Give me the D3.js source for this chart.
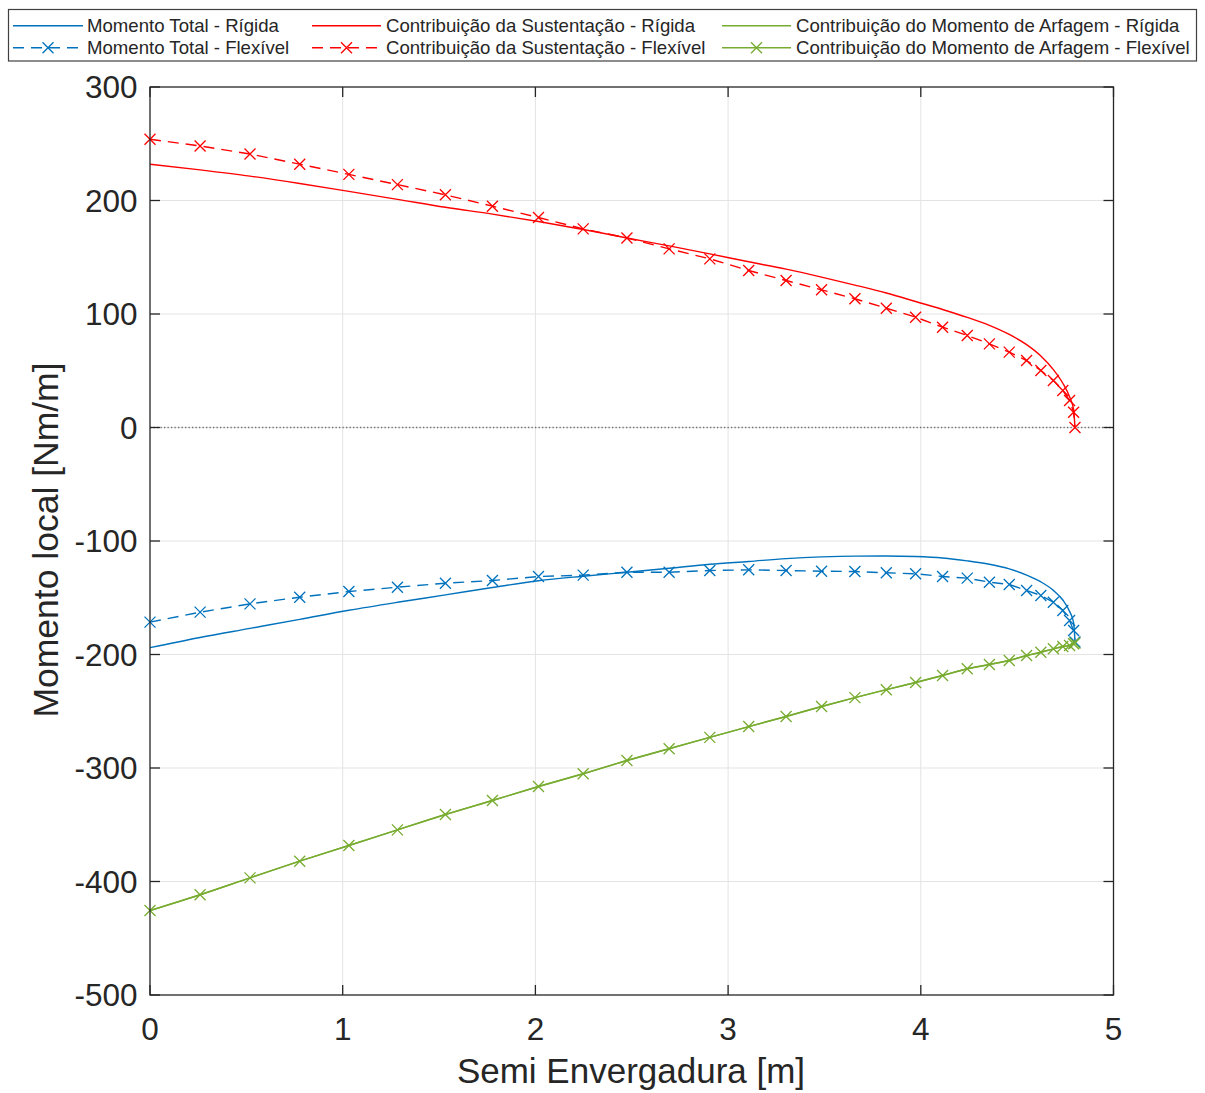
<!DOCTYPE html>
<html>
<head>
<meta charset="utf-8">
<script src="https://cdn.jsdelivr.net/npm/d3@7"></script>
<style>
  html, body { margin: 0; padding: 0; background: #fff; }
  svg { display: block; }
  text { font-family: "Liberation Sans", Arial, sans-serif; fill: #262626; }
</style>
</head>
<body>
<svg id="chart" width="1205" height="1093"></svg>
<script>
// ---- data ----
const span = [0, 0.260, 0.519, 0.777, 1.032, 1.284, 1.533, 1.777, 2.016, 2.248, 2.475, 2.694, 2.905, 3.107, 3.301, 3.485, 3.658, 3.821, 3.973, 4.113, 4.241, 4.356, 4.459, 4.549, 4.623, 4.688, 4.737, 4.772, 4.793, 4.800];

const totalRigid = [-194, -185, -177, -169, -161, -154, -147.5, -141, -135, -131, -127.5, -124, -120.5, -118, -115.5, -114, -113.3, -113.2, -113.7, -115, -117.5, -120.5, -124.5, -130, -136, -143.5, -152, -162, -172, -188];
const totalFlex = [-171.5, -162.7, -155.4, -149.5, -144.5, -140.7, -137.2, -134.8, -131.3, -130.1, -127.5, -127.5, -126, -125.4, -126, -126.6, -126.9, -128, -128.9, -131.3, -132.7, -136.3, -138.3, -143.6, -148, -153.9, -161.2, -170, -178.9, -189];
const liftRigid = [232, 227, 221.5, 215, 208, 201, 194, 188, 181.5, 174.5, 167, 160, 153, 146, 139.5, 132.5, 125.5, 118.5, 111, 104, 97, 90, 82, 73, 63, 51, 39, 27, 16, 0];
const liftFlex = [254, 248, 241, 232, 223, 214, 205, 195, 185, 175, 167, 157.4, 148.6, 138.3, 129.5, 121.3, 113.4, 105.1, 97.2, 88.4, 81.1, 73.7, 66.4, 59.0, 50.2, 41.4, 32.6, 23.8, 13.5, 0];
const pitchRigid = [-425.6, -411.7, -396.8, -382.1, -368.3, -354.5, -341, -328.6, -316.3, -305.1, -293.4, -283, -273, -263.5, -254.6, -245.8, -238, -231, -224.7, -218.5, -212.6, -208.8, -205.3, -200.9, -198, -195, -193, -192, -190.6, -190];
const pitchFlex = [-425.6, -411.7, -396.8, -382.1, -368.3, -354.5, -341, -328.6, -316.3, -305.1, -293.4, -283, -273, -263.5, -254.6, -245.8, -238, -231, -224.7, -218.5, -212.6, -208.8, -205.3, -200.9, -198, -195, -193, -192, -190.6, -190];

const xTicks = [0, 1, 2, 3, 4, 5];
const yTicks = [300, 200, 100, 0, -100, -200, -300, -400, -500];
const xDomain = [0, 5];
const yDomain = [-500, 300];
const zeroLine = [0, 5];

const seriesNames = [
  "Momento Total - Rígida",
  "Momento Total - Flexível",
  "Contribuição da Sustentação - Rígida",
  "Contribuição da Sustentação - Flexível",
  "Contribuição do Momento de Arfagem - Rígida",
  "Contribuição do Momento de Arfagem - Flexível"
];

const xLabel = "Semi Envergadura [m]";
const yLabel = "Momento local [Nm/m]";

// ---- layout ----
const svg = d3.select("#chart");
const L = 150, T = 87, R = 1113.5, B = 995;
const x = d3.scaleLinear().domain(xDomain).range([L, R]);
const y = d3.scaleLinear().domain(yDomain).range([B, T]);

const BLUE = "#0072BD", RED = "#FF0000", GREEN = "#77AC30";
const AX = "#262626";

// grid
const grid = svg.append("g");
grid.selectAll("line.gx").data(xTicks.slice(1, -1)).join("line")
  .attr("x1", d => x(d)).attr("x2", d => x(d)).attr("y1", T).attr("y2", B)
  .attr("stroke", "#e3e3e3").attr("stroke-width", 1);
grid.selectAll("line.gy").data(yTicks.slice(1, -1)).join("line")
  .attr("y1", d => y(d)).attr("y2", d => y(d)).attr("x1", L).attr("x2", R)
  .attr("stroke", "#e3e3e3").attr("stroke-width", 1);

// zero dotted line
svg.append("line")
  .attr("x1", x(zeroLine[0])).attr("x2", x(zeroLine[1]))
  .attr("y1", y(0)).attr("y2", y(0))
  .attr("stroke", "#707070").attr("stroke-width", 1.3)
  .attr("stroke-dasharray", "1.3,2.2");

// series
const series = [
  { name: seriesNames[0], vals: totalRigid, color: BLUE, dashed: false, marker: false },
  { name: seriesNames[1], vals: totalFlex, color: BLUE, dashed: true, marker: true },
  { name: seriesNames[2], vals: liftRigid, color: RED, dashed: false, marker: false },
  { name: seriesNames[3], vals: liftFlex, color: RED, dashed: true, marker: true },
  { name: seriesNames[4], vals: pitchRigid, color: GREEN, dashed: false, marker: false },
  { name: seriesNames[5], vals: pitchFlex, color: GREEN, dashed: false, marker: true }
];

const lineSmooth = d3.line().x(d => x(d[0])).y(d => y(d[1])).curve(d3.curveMonotoneX);
const lineStraight = d3.line().x(d => x(d[0])).y(d => y(d[1]));
const DASH = "11,7";
const M = 5.5;

function drawX(g, cx, cy, color) {
  g.append("path")
    .attr("d", `M${cx - M},${cy - M}L${cx + M},${cy + M}M${cx - M},${cy + M}L${cx + M},${cy - M}`)
    .attr("stroke", color).attr("stroke-width", 1.3).attr("fill", "none");
}

const plot = svg.append("g");
series.forEach(s => {
  const pts = span.map((v, i) => [v, s.vals[i]]);
  plot.append("path")
    .attr("d", s.marker ? lineStraight(pts) : lineSmooth(pts))
    .attr("fill", "none").attr("stroke", s.color).attr("stroke-width", 1.4)
    .attr("stroke-dasharray", s.dashed ? DASH : null);
  if (s.marker) {
    pts.forEach(p => drawX(plot, x(p[0]), y(p[1]), s.color));
  }
});

// axes box
svg.append("rect").attr("x", L).attr("y", T).attr("width", R - L).attr("height", B - T)
  .attr("fill", "none").attr("stroke", AX).attr("stroke-width", 1.3);

// ticks
const TL = 10;
const ticks = svg.append("g").attr("stroke", AX).attr("stroke-width", 1.3);
xTicks.forEach(t => {
  ticks.append("line").attr("x1", x(t)).attr("x2", x(t)).attr("y1", B).attr("y2", B - TL);
  ticks.append("line").attr("x1", x(t)).attr("x2", x(t)).attr("y1", T).attr("y2", T + TL);
});
yTicks.forEach(t => {
  ticks.append("line").attr("y1", y(t)).attr("y2", y(t)).attr("x1", L).attr("x2", L + TL);
  ticks.append("line").attr("y1", y(t)).attr("y2", y(t)).attr("x1", R).attr("x2", R - TL);
});

// tick labels
svg.append("g").selectAll("text").data(xTicks).join("text")
  .attr("x", d => x(d)).attr("y", 1039.5)
  .attr("text-anchor", "middle").attr("font-size", 31.5)
  .text(d => d3.format("d")(d));
svg.append("g").selectAll("text").data(yTicks).join("text")
  .attr("x", 137.5).attr("y", d => y(d) + 11.3)
  .attr("text-anchor", "end").attr("font-size", 31.5)
  .text(d => d3.format("d")(d).replace("−", "-"));

// axis labels
svg.append("text").attr("x", 631).attr("y", 1083)
  .attr("text-anchor", "middle").attr("font-size", 35).text(xLabel);
svg.append("text")
  .attr("transform", "translate(58,540) rotate(-90)")
  .attr("text-anchor", "middle").attr("font-size", 35.5).text(yLabel);

// legend
const lg = svg.append("g");
lg.append("rect").attr("x", 8.5).attr("y", 9.5).attr("width", 1188).attr("height", 51.5)
  .attr("fill", "#fff").attr("stroke", "#404040").attr("stroke-width", 1.2);
const cols = [
  { lx1: 13, lx2: 83, tx: 87 },
  { lx1: 312, lx2: 381, tx: 386 },
  { lx1: 722, lx2: 791, tx: 796 }
];
const rows = [25.7, 47.7];
series.forEach((s, i) => {
  const c = cols[Math.floor(i / 2)];
  const ry = rows[i % 2];
  lg.append("line").attr("x1", c.lx1).attr("x2", c.lx2).attr("y1", ry).attr("y2", ry)
    .attr("stroke", s.color).attr("stroke-width", 1.4)
    .attr("stroke-dasharray", s.dashed ? DASH : null);
  if (s.marker) drawX(lg, (c.lx1 + c.lx2) / 2, ry, s.color);
  lg.append("text").attr("x", c.tx).attr("y", ry + 6.5)
    .attr("font-size", 18.6).text(s.name);
});
</script>
</body>
</html>
